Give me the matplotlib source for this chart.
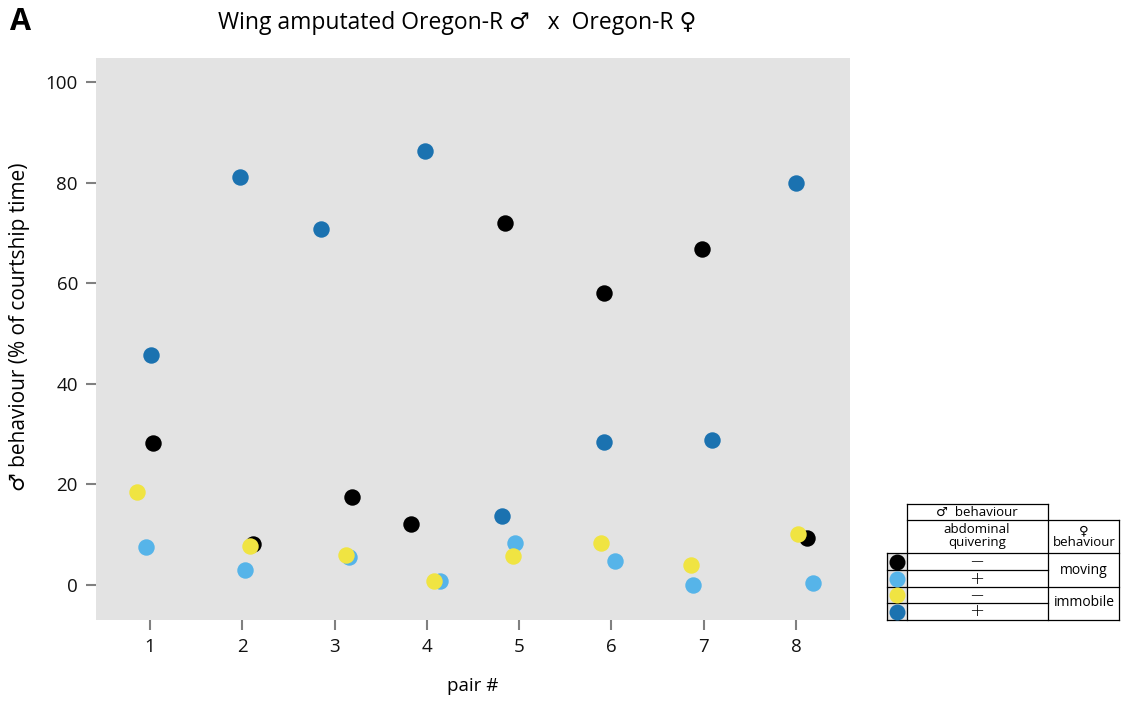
import matplotlib
matplotlib.use("Agg")
import matplotlib.pyplot as plt
from matplotlib.patches import Rectangle
from matplotlib.lines import Line2D

plt.rcParams['font.family'] = ['Open Sans', 'DejaVu Sans']

# Data: % of courtship time per pair, with horizontal jitter positions
pairs = [1, 2, 3, 4, 5, 6, 7, 8]
pair_labels = ["1", "2", "3", "4", "5", "6", "7", "8"]

black_x = [1.03, 2.12, 3.19, 3.83, 4.85, 5.92, 6.98, 8.12]
black_vals = [28.2, 8.2, 17.5, 12.1, 72.0, 58.1, 66.8, 9.3]

lightblue_x = [0.96, 2.03, 3.16, 4.14, 4.95, 6.04, 6.88, 8.18]
lightblue_vals = [7.6, 2.9, 5.5, 0.7, 8.3, 4.8, 0.0, 0.4]

darkblue_x = [1.01, 1.98, 2.85, 3.98, 4.81, 5.92, 7.09, 8.00]
darkblue_vals = [45.7, 81.1, 70.8, 86.3, 13.6, 28.4, 28.9, 79.9]

yellow_x = [0.86, 2.08, 3.12, 4.08, 4.93, 5.89, 6.86, 8.02]
yellow_vals = [18.4, 7.8, 6.0, 0.7, 5.8, 8.3, 4.0, 10.1]

y_ticks = [0, 20, 40, 60, 80, 100]

C_BLACK = "#000000"
C_LIGHT = "#56B4E9"
C_DARK = "#1B72B0"
C_YELLOW = "#F0E442"
PANEL = "#E3E3E3"

W, H = 1123, 702
fig = plt.figure(figsize=(W / 100, H / 100), dpi=100)


def fx(px):
    return px / W


def fy(py):
    return 1 - py / H


ax = fig.add_axes([fx(96), fy(620), fx(850) - fx(96), fy(58) - fy(620)])
ax.set_facecolor(PANEL)
for s in ax.spines.values():
    s.set_visible(False)

ms = 140
ax.scatter(black_x, black_vals, s=ms, color=C_BLACK, linewidths=0, zorder=3)
ax.scatter(lightblue_x, lightblue_vals, s=ms, color=C_LIGHT, linewidths=0, zorder=4)
ax.scatter(darkblue_x, darkblue_vals, s=ms, color=C_DARK, linewidths=0, zorder=5)
ax.scatter(yellow_x, yellow_vals, s=ms, color=C_YELLOW, linewidths=0, zorder=6)

ax.set_xlim(0.415, 8.585)
ax.set_ylim(-7.0, 104.8)
ax.set_xticks(pairs)
ax.set_xticklabels(pair_labels)
ax.set_yticks(y_ticks)
ax.tick_params(axis='both', direction='out', length=7, width=1.5, color="#808080",
               labelsize=13.5, labelcolor="#111111", pad=6)

ax.set_xlabel("pair #", fontsize=13.5)
ax.xaxis.set_label_coords(0.5, (620 - 686) / 562, transform=ax.transAxes)
ax.xaxis.label.set_va("center")
ax.set_ylabel("♂ behaviour (% of courtship time)", fontsize=15)
ax.yaxis.set_label_coords((20 - 96) / 754, (620 - 327) / 562, transform=ax.transAxes)
ax.yaxis.label.set_va("center")

fig.text(fx(10), fy(22), "A", fontsize=22, fontweight="bold", va="center", ha="left")
fig.text(fx(457), fy(23), "Wing amputated Oregon-R ♂   x  Oregon-R ♀",
         fontsize=16.5, va="center", ha="center")

# Legend table
lw = 0.9


def hline(x0, x1, y):
    fig.add_artist(Line2D([fx(x0), fx(x1)], [fy(y), fy(y)], color="black", lw=lw,
                          transform=fig.transFigure))


def vline(x, y0, y1):
    fig.add_artist(Line2D([fx(x), fx(x)], [fy(y0), fy(y1)], color="black", lw=lw,
                          transform=fig.transFigure))


rows = [553, 570, 587, 603, 620]
# colour swatch column background
fig.add_artist(Rectangle((fx(887), fy(620)), fx(907) - fx(887), fy(553) - fy(620),
                         transform=fig.transFigure, facecolor=PANEL, edgecolor="none"))
hline(907, 1048, 504)
vline(907, 504, 620)
vline(1048, 504, 620)
hline(907, 1119, 520)
vline(1119, 520, 620)
hline(887, 1119, 553)
hline(887, 1048, 570)
hline(887, 1119, 587)
hline(887, 1048, 603)
hline(887, 1119, 620)
vline(887, 553, 620)

ts = 9.5
fig.text(fx(977), fy(512), "♂  behaviour", fontsize=ts, ha="center", va="center")
fig.text(fx(977), fy(536), "abdominal\nquivering", fontsize=ts, ha="center", va="center",
         linespacing=0.95)
fig.text(fx(1084), fy(537), "♀\nbehaviour", fontsize=ts, ha="center", va="center",
         linespacing=0.9)
signs = ["−", "+", "−", "+"]
colors = [C_BLACK, C_LIGHT, C_YELLOW, C_DARK]
for i in range(4):
    yc = (rows[i] + rows[i + 1]) / 2
    fig.text(fx(977), fy(yc), signs[i], fontsize=13, ha="center", va="center",
             family="DejaVu Sans", fontweight="light")
    fig.add_artist(Line2D([fx(897)], [fy(yc)], marker="o", markersize=11.5,
                          markerfacecolor=colors[i], markeredgewidth=0,
                          transform=fig.transFigure))
fig.text(fx(1084), fy(570), "moving", fontsize=ts + 0.5, ha="center", va="center")
fig.text(fx(1084), fy(603), "immobile", fontsize=ts + 0.5, ha="center", va="center")

fig.savefig("out.png", dpi=100)
